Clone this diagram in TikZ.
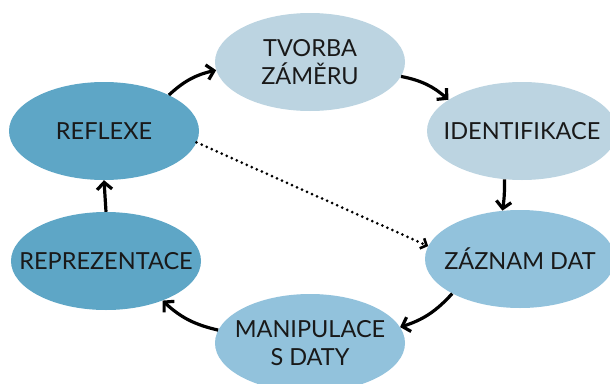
\documentclass[tikz,border=0pt]{standalone}
\usepackage{fontspec}
\setmainfont{Lato}
\usetikzlibrary{shapes.geometric,arrows.meta}
\definecolor{lightc}{HTML}{BCD4E1}
\definecolor{midc}{HTML}{92C2DC}
\definecolor{darkc}{HTML}{5EA6C6}
\begin{document}
\begin{tikzpicture}[x=1pt,y=-1pt,
  phase/.style={ellipse,minimum width=190pt,minimum height=98pt,inner xsep=-80pt,inner ysep=-40pt,align=center,font=\fontsize{23.5}{28}\selectfont,text=black!90},
  flow/.style={line width=3.2pt,-{Straight Barb[length=7pt,width=15pt,line width=3.2pt]},bend left=15},
  dots/.style={line width=3pt,line cap=round,dash pattern=on 0pt off 5.5pt,-{Straight Barb[length=5pt,width=11pt,line width=2.6pt]}}]
\useasboundingbox (0,0) rectangle (610,383);
\clip (0,0) rectangle (610,383);
\node[phase,fill=lightc] (tv) at (310,62) {TVORBA\\ZÁMĚRU};
\node[phase,fill=lightc] (id) at (522,131) {IDENTIFIKACE};
\node[phase,fill=midc] (zd) at (520,259) {ZÁZNAM DAT};
\node[phase,fill=midc] (mp) at (310,343) {MANIPULACE\\S DATY};
\node[phase,fill=darkc] (rp) at (106,261) {REPREZENTACE};
\node[phase,fill=darkc] (rf) at (104,131) {REFLEXE};
\draw[flow] (rf.29) to (tv.185);
\draw[flow] (tv.351) to (id.157);
\draw[flow,bend left=5] (id.250) to (zd.110);
\draw[flow] (zd.207) to (mp.10);
\draw[flow] (mp.172) to (rp.325);
\draw[flow,bend left=0] (rp.90) to (rf.270);
\draw[dots] (rf.353) -- (zd.172);
\end{tikzpicture}
\end{document}
